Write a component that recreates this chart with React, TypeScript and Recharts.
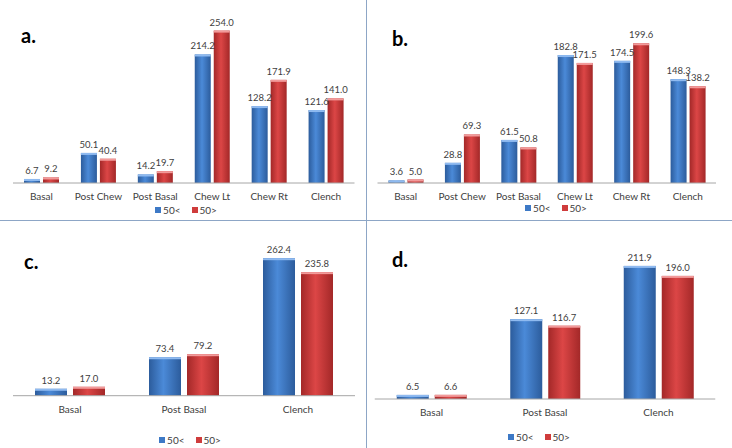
import React from 'react';
import { BarChart, Bar, XAxis, YAxis, LabelList, Legend } from 'recharts';

// four panels of one figure: a., b. (six tasks) and c., d. (three tasks)
const catsSix = ['Basal', 'Post Chew', 'Post Basal', 'Chew Lt', 'Chew Rt', 'Clench'];
const catsThree = ['Basal', 'Post Basal', 'Clench'];
const seriesNames = ['50<', '50>'];

const aUnder = [6.7, 50.1, 14.2, 214.2, 128.2, 121.6];
const aOver = [9.2, 40.4, 19.7, 254.0, 171.9, 141.0];
const bUnder = [3.6, 28.8, 61.5, 182.8, 174.5, 148.3];
const bOver = [5.0, 69.3, 50.8, 171.5, 199.6, 138.2];
const cUnder = [13.2, 73.4, 262.4];
const cOver = [17.0, 79.2, 235.8];
const dUnder = [6.5, 127.1, 211.9];
const dOver = [6.6, 116.7, 196.0];

const BLUE = { edge: '#2c5c9c', mid: '#4b8ad8', top: '#8fbaf0', swatch: '#3d79c6' };
const RED = { edge: '#a32828', mid: '#dc4646', top: '#f29a9a', swatch: '#cf3c3c' };
const TEXT = '#404040';
const FONT = 'Lato, "Open Sans", sans-serif';

function toRows(cats: string[], under: number[], over: number[]) {
  return cats.map((c, i) => ({ cat: c, under: under[i], over: over[i] }));
}

function BevelBar(props: any) {
  const { x, y, width, height, fill, hi } = props;
  if (!height || height <= 0) return null;
  const cap = Math.min(2, height);
  return (
    <g>
      <rect x={x} y={y} width={width} height={height} fill={fill} />
      <rect x={x} y={y} width={width} height={cap} fill={hi} />
    </g>
  );
}

function LegendBox({ left, top }: { left: number; top: number }) {
  const colors = [BLUE.swatch, RED.swatch];
  return (
    <div style={{ position: 'absolute', left, top, width: 120, display: 'flex', justifyContent: 'center', gap: 11, fontFamily: FONT, fontSize: 10, color: TEXT, lineHeight: '12px' }}>
      {seriesNames.map((n, i) => (
        <span key={n} style={{ display: 'flex', alignItems: 'center', gap: 2 }}>
          <span style={{ width: 6, height: 6, background: colors[i], display: 'inline-block' }} />
          {n}
        </span>
      ))}
    </div>
  );
}

interface PanelProps {
  id: string;
  letter: string;
  rows: any[];
  left: number;
  top: number;
  height: number;
  margin: { top: number; right: number; bottom: number; left: number };
  yMax: number;
  barSize: number;
  barGap: number;
  tickMargin: number;
  legendLeft: number;
  legendTop: number;
  letterPos: { x: number; y: number };
}

function Panel(p: PanelProps) {
  const fmt = (v: any) => Number(v).toFixed(1);
  return (
    <div style={{ position: 'absolute', left: p.left, top: p.top, width: 366, height: p.height }}>
      <BarChart width={366} height={p.height} data={p.rows} margin={p.margin} barSize={p.barSize} barGap={p.barGap}>
        <defs>
          <linearGradient id={`blue-${p.id}`} x1="0" y1="0" x2="1" y2="0">
            <stop offset="0%" stopColor={BLUE.edge} />
            <stop offset="45%" stopColor={BLUE.mid} />
            <stop offset="100%" stopColor={BLUE.edge} />
          </linearGradient>
          <linearGradient id={`red-${p.id}`} x1="0" y1="0" x2="1" y2="0">
            <stop offset="0%" stopColor={RED.edge} />
            <stop offset="45%" stopColor={RED.mid} />
            <stop offset="100%" stopColor={RED.edge} />
          </linearGradient>
        </defs>
        <XAxis
          dataKey="cat"
          height={30}
          tickLine={false}
          tickSize={6}
          tickMargin={p.tickMargin}
          axisLine={{ stroke: '#a6a6a6' }}
          tick={{ fill: TEXT, fontSize: 10, fontFamily: FONT }}
          interval={0}
        />
        <YAxis hide domain={[0, p.yMax]} />
        <Legend
          layout="horizontal"
          verticalAlign="middle"
          align="center"
          wrapperStyle={{ top: 0, left: 0, width: 0, height: 0 }}
          content={() => <LegendBox left={p.legendLeft} top={p.legendTop} />}
        />
        <Bar dataKey="under" name={seriesNames[0]} fill={`url(#blue-${p.id})`} isAnimationActive={false}
          shape={(s: any) => <BevelBar {...s} hi={BLUE.top} />}>
          <LabelList dataKey="under" position="top" offset={5} formatter={fmt} style={{ fill: TEXT, fontSize: 9.5, fontFamily: FONT }} />
        </Bar>
        <Bar dataKey="over" name={seriesNames[1]} fill={`url(#red-${p.id})`} isAnimationActive={false}
          shape={(s: any) => <BevelBar {...s} hi={RED.top} />}>
          <LabelList dataKey="over" position="top" offset={5} formatter={fmt} style={{ fill: TEXT, fontSize: 9.5, fontFamily: FONT }} />
        </Bar>
      </BarChart>
      <div style={{ position: 'absolute', left: p.letterPos.x, top: p.letterPos.y, fontFamily: FONT, fontWeight: 700, fontSize: 20, color: '#000', lineHeight: '20px' }}>
        {p.letter}
      </div>
    </div>
  );
}

export default function App() {
  return (
    <div style={{ position: 'absolute', left: 0, top: 0, width: 732, height: 448, background: '#fff', overflow: 'hidden' }}>
      <Panel id="a" letter="a." rows={toRows(catsSix, aUnder, aOver)} left={0} top={0} height={220}
        margin={{ top: 3, right: 11.5, bottom: 7, left: 13 }} yMax={300} barSize={16} barGap={3} tickMargin={4}
        legendLeft={126} legendTop={204} letterPos={{ x: 21, y: 25 }} />
      <Panel id="b" letter="b." rows={toRows(catsSix, bUnder, bOver)} left={366} top={0} height={220}
        margin={{ top: 8, right: 16, bottom: 7, left: 11.5 }} yMax={250} barSize={16} barGap={3} tickMargin={4}
        legendLeft={130} legendTop={202} letterPos={{ x: 26, y: 28 }} />
      <Panel id="c" letter="c." rows={toRows(catsThree, cUnder, cOver)} left={0} top={220} height={228}
        margin={{ top: 18.5, right: 11, bottom: 22.3, left: 13 }} yMax={300} barSize={32} barGap={6} tickMargin={4.5}
        legendLeft={130} legendTop={214} letterPos={{ x: 24, y: 31 }} />
      <Panel id="d" letter="d." rows={toRows(catsThree, dUnder, dOver)} left={366} top={220} height={228}
        margin={{ top: 22, right: 16.75, bottom: 19, left: 8.75 }} yMax={250} barSize={32} barGap={6} tickMargin={4}
        legendLeft={113} legendTop={211} letterPos={{ x: 26, y: 29 }} />
      <div style={{ position: 'absolute', left: 365.5, top: 0, width: 1, height: 448, background: '#8da6c6' }} />
      <div style={{ position: 'absolute', left: 0, top: 220, width: 732, height: 1, background: '#8da6c6' }} />
    </div>
  );
}
